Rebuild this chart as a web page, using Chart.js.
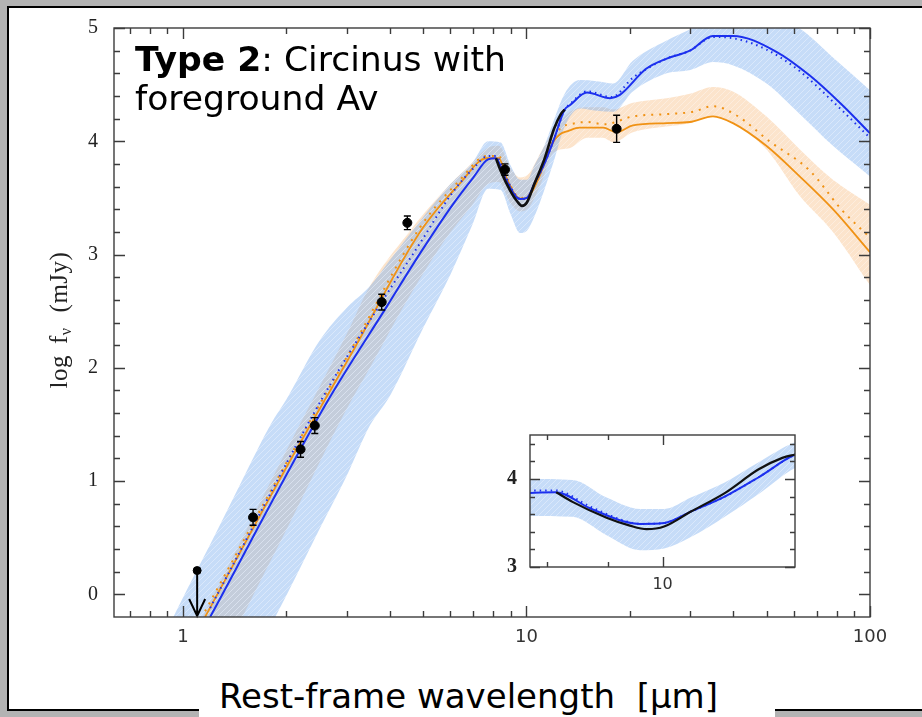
<!DOCTYPE html>
<html>
<head>
<meta charset="utf-8">
<script src="https://cdn.jsdelivr.net/npm/chart.js@4.4.1/dist/chart.umd.min.js"></script>
<style>
  html, body { margin: 0; padding: 0; }
  body { width: 922px; height: 717px; background: #b3b3b3; position: relative; overflow: hidden; font-family: "DejaVu Sans", sans-serif; }
  #panel { position: absolute; left: 7px; top: 6px; width: 940px; height: 705px; box-sizing: border-box; border: 2px solid #000; background: #fff; }
  #main { position: absolute; left: 0; top: 0; }
  #inset { position: absolute; left: 470px; top: 410px; }
  #title { position: absolute; left: 135px; top: 40px; font-size: 34.6px; line-height: 39px; color: #000; white-space: nowrap; }
  #xtitle { position: absolute; left: 199px; top: 676px; width: 576px; height: 41px; box-sizing: border-box; padding-left: 20px; background: #fff; font-size: 34px; line-height: 40px; white-space: pre; color: #000; }
  #ytitle { position: absolute; left: -61px; top: 306px; width: 240px; height: 28px; line-height: 28px; text-align: center; transform: rotate(-90deg); font-family: "Liberation Serif", serif; font-size: 25px; letter-spacing: 0.5px; color: #222; white-space: pre; }
  #ytitle sub { font-size: 16px; vertical-align: -4px; }
  #ytitle .gap1 { margin-left: 11px; }
  #ytitle .gap2 { margin-left: 15px; }
</style>
</head>
<body>
<div id="panel"></div>
<canvas id="main" width="922" height="717"></canvas>
<canvas id="inset" width="340" height="200"></canvas>
<div id="title"><b>Type 2</b>: Circinus with<br>foreground Av</div>
<div id="ytitle">log<span class="gap1">f</span><sub>ν</sub><span class="gap2">(mJy)</span></div>
<div id="xtitle">Rest-frame wavelength  [μm]</div>
<script>
// model SED, blue (solid + dotted)
const blueX = [1.2, 2.63, 3.92, 4.9, 6.13, 7.0, 7.73, 8.14, 8.69, 9.27, 9.58, 10.03, 10.56, 11.27, 12.03, 12.92, 13.4, 15.0, 17.5, 18.7, 22.3, 25.6, 29.9, 34.9, 39.9, 53.4, 66.8, 83, 100];
const blueY = [-0.2, 1.70, 2.54, 3.01, 3.45, 3.68, 3.84, 3.85, 3.67, 3.52, 3.49, 3.50, 3.63, 3.80, 4.02, 4.28, 4.32, 4.43, 4.38, 4.41, 4.64, 4.73, 4.80, 4.93, 4.93, 4.79, 4.58, 4.32, 4.07];
const blueDotX = [1.2, 2.6, 3.9, 4.9, 6.1, 7.0, 7.73, 8.14, 8.69, 9.27, 9.58, 10.03, 10.56, 11.27, 12.03, 12.92, 13.4, 15.0, 17.7, 20.4, 25.6, 29.9, 34.9, 39.9, 49.9, 62.4, 78, 100];
const blueDotY = [-0.12, 1.78, 2.64, 3.10, 3.55, 3.76, 3.87, 3.87, 3.69, 3.53, 3.49, 3.50, 3.63, 3.80, 4.02, 4.28, 4.33, 4.44, 4.39, 4.56, 4.73, 4.80, 4.92, 4.91, 4.81, 4.62, 4.35, 4.03];
const blueBandX = [0.9, 1.0, 1.2, 1.5, 1.8, 2.0, 2.5, 3.0, 3.5, 4.0, 5.0, 6.0, 7.0, 7.73, 8.41, 8.98, 9.58, 10.03, 10.56, 11.27, 12.03, 12.92, 14.3, 16.0, 17.9, 20.4, 25.6, 30, 35, 40, 50, 62, 78, 100];
const blueBandHi = [-0.31, -0.03, 0.44, 1.03, 1.5, 1.72, 2.24, 2.53, 2.72, 2.95, 3.33, 3.62, 3.82, 4.0, 3.99, 3.79, 3.66, 3.66, 3.79, 3.96, 4.19, 4.42, 4.54, 4.53, 4.51, 4.71, 4.89, 4.99, 5.08, 5.12, 5.1, 5.0, 4.74, 4.45];
const blueBandLo = [-2.1, -1.82, -1.34, -0.76, -0.28, -0.01, 0.58, 1.05, 1.49, 1.75, 2.35, 2.82, 3.28, 3.58, 3.57, 3.36, 3.19, 3.21, 3.34, 3.57, 3.83, 4.13, 4.29, 4.27, 4.26, 4.44, 4.6, 4.63, 4.70, 4.67, 4.51, 4.25, 3.96, 3.69];

// model SED, orange (solid + dotted)
const orangeX = [1.16, 2.0, 3.14, 4.9, 6.41, 7.66, 8.3, 8.8, 9.3, 9.7, 10.2, 10.8, 11.4, 12.0, 12.5, 13.2, 14.3, 16.7, 18.3, 20.4, 25.6, 29.9, 34.9, 39.9, 49.9, 62.4, 78, 100];
const orangeY = [-0.2, 1.12, 2.16, 3.2, 3.63, 3.85, 3.85, 3.66, 3.52, 3.49, 3.52, 3.66, 3.84, 4.0, 4.06, 4.09, 4.12, 4.12, 4.08, 4.14, 4.16, 4.17, 4.22, 4.16, 3.96, 3.69, 3.40, 3.02];
const orangeDotX = [1.16, 2.0, 3.14, 4.9, 6.41, 7.66, 8.3, 8.8, 9.3, 9.7, 10.2, 10.8, 11.4, 12.0, 12.6, 13.4, 15.0, 16.9, 20.4, 25.6, 30.5, 34.9, 40.8, 51, 66.8, 83, 100];
const orangeDotY = [-0.15, 1.16, 2.2, 3.24, 3.66, 3.87, 3.87, 3.67, 3.53, 3.5, 3.53, 3.67, 3.85, 4.02, 4.12, 4.15, 4.17, 4.15, 4.22, 4.24, 4.26, 4.31, 4.23, 4.0, 3.74, 3.39, 3.15];
const orangeBandX = [1.0, 1.14, 1.49, 2.0, 3.0, 3.5, 4.5, 5.7, 7.0, 7.7, 8.3, 9.0, 9.6, 10.2, 11.0, 12.0, 13.4, 15.0, 16.7, 17.9, 20.4, 25.6, 29.9, 34.9, 39.9, 49.9, 62.4, 78, 100];
const orangeBandHi = [-0.54, -0.2, 0.5, 1.27, 2.3, 2.72, 3.18, 3.55, 3.82, 3.94, 3.96, 3.76, 3.68, 3.72, 3.9, 4.1, 4.26, 4.3, 4.3, 4.28, 4.34, 4.38, 4.42, 4.48, 4.44, 4.22, 3.93, 3.66, 3.44];
const orangeBandLo = [-1.5, -0.95, -0.2, 0.57, 1.64, 2.0, 2.6, 3.1, 3.45, 3.62, 3.64, 3.45, 3.38, 3.42, 3.62, 3.9, 3.94, 4.03, 4.03, 3.99, 4.08, 4.13, 4.16, 4.22, 4.16, 3.93, 3.52, 3.2, 2.73];

// silicate spectrum
const specX = [8.15, 8.41, 8.98, 9.39, 9.70, 10.03, 10.56, 11.27, 12.03, 12.59, 12.92];
const specY = [3.85, 3.74, 3.56, 3.47, 3.43, 3.46, 3.63, 3.84, 4.11, 4.24, 4.28];

// photometry
const photX = [1.6, 2.2, 2.42, 3.79, 4.5, 8.66, 18.3];
const photY = [0.68, 1.28, 1.49, 2.58, 3.28, 3.75, 4.11];
const photErr = [0.07, 0.07, 0.07, 0.07, 0.06, 0.05, 0.12];
const limitX = [1.1];
const limitY = [0.21];

// ticks
const xLabels = [1, 10, 100];
const xMinor = [0.7, 0.8, 0.9, 2, 3, 4, 5, 6, 7, 8, 9, 20, 30, 40, 50, 60, 70, 80, 90];
const yLabels = [0, 1, 2, 3, 4, 5];
const yMinor = [0.2, 0.4, 0.6, 0.8, 1.2, 1.4, 1.6, 1.8, 2.2, 2.4, 2.6, 2.8, 3.2, 3.4, 3.6, 3.8, 4.2, 4.4, 4.6, 4.8];
const insetXLabels = [10];
const insetXMinor = [8, 9];
const insetYLabels = [3, 4];
const insetYMinor = [3.2, 3.4, 3.6, 3.8, 4.2, 4.4];

const BLUE = 'rgb(28,48,238)';
const ORANGE = 'rgb(240,146,20)';

function pts(xs, ys) {
    return xs.map((x, i) => ({x: x, y: ys[i]}))
}

function hatch(base, stripe) {
    const c = document.createElement('canvas');
    c.width = 6; c.height = 6;
    const g = c.getContext('2d');
    g.fillStyle = base;
    g.fillRect(0, 0, 6, 6);
    g.strokeStyle = stripe;
    g.lineWidth = 1;
    g.beginPath();
    g.moveTo(0, 6); g.lineTo(6, 0);
    g.moveTo(-1, 1); g.lineTo(1, -1);
    g.moveTo(5, 7); g.lineTo(7, 5);
    g.stroke();
    return g.createPattern(c, 'repeat');
}

const bluePat = hatch('rgba(120,172,238,0.42)', 'rgba(255,255,255,0.35)');
const orangePat = hatch('rgba(246,172,95,0.32)', 'rgba(255,255,255,0.35)');

function line(data, color, width, dash, order) {
    return {
        data: data, borderColor: color, borderWidth: width, borderDash: dash || [],
        pointRadius: 0, fill: false, cubicInterpolationMode: 'monotone', order: order
    }
}

function band(hi, lo, pat, order) {
    return [
        {data: hi, borderWidth: 0, borderColor: 'rgba(0,0,0,0)', pointRadius: 0, fill: '+1',
            backgroundColor: pat, cubicInterpolationMode: 'monotone', order: order},
        {data: lo, borderWidth: 0, borderColor: 'rgba(0,0,0,0)', pointRadius: 0, fill: false,
            cubicInterpolationMode: 'monotone', order: order + 1}
    ]
}

// box with inward ticks on all four sides
function framePlugin(xMaj, xMin, yMaj, yMin, majLen, minLen) {
    return {
        id: 'frame',
        beforeDraw(chart) {
            if (!chart.options.whiteArea) return;
            const a = chart.chartArea;
            chart.ctx.save();
            chart.ctx.fillStyle = '#fff';
            chart.ctx.fillRect(a.left, a.top, a.right - a.left, a.bottom - a.top);
            chart.ctx.restore();
        },
        afterDraw(chart) {
            const ctx = chart.ctx, a = chart.chartArea;
            const x = chart.scales.x, y = chart.scales.y;
            ctx.save();
            ctx.strokeStyle = '#3c3c3c';
            ctx.lineWidth = 1.4;
            ctx.strokeRect(a.left, a.top, a.right - a.left, a.bottom - a.top);
            ctx.beginPath();
            const xt = (v, len) => {
                const p = Math.round(x.getPixelForValue(v)) + 0.5;
                ctx.moveTo(p, a.bottom); ctx.lineTo(p, a.bottom - len);
                ctx.moveTo(p, a.top); ctx.lineTo(p, a.top + len);
            };
            const yt = (v, len) => {
                const p = Math.round(y.getPixelForValue(v)) + 0.5;
                ctx.moveTo(a.left, p); ctx.lineTo(a.left + len, p);
                ctx.moveTo(a.right, p); ctx.lineTo(a.right - len, p);
            };
            xMaj.forEach(v => xt(v, majLen));
            xMin.forEach(v => xt(v, minLen));
            yMaj.forEach(v => yt(v, majLen));
            yMin.forEach(v => yt(v, minLen));
            ctx.stroke();
            ctx.restore();
        }
    }
}

const errorBars = {
    id: 'errorBars',
    afterDatasetsDraw(chart) {
        const ctx = chart.ctx, x = chart.scales.x, y = chart.scales.y;
        ctx.save();
        ctx.strokeStyle = '#000';
        ctx.lineWidth = 1.4;
        ctx.beginPath();
        photX.forEach((v, i) => {
            const px = x.getPixelForValue(v);
            const t = y.getPixelForValue(photY[i] + photErr[i]);
            const b = y.getPixelForValue(photY[i] - photErr[i]);
            ctx.moveTo(px, t); ctx.lineTo(px, b);
            ctx.moveTo(px - 3.5, t); ctx.lineTo(px + 3.5, t);
            ctx.moveTo(px - 3.5, b); ctx.lineTo(px + 3.5, b);
        });
        ctx.stroke();
        ctx.lineWidth = 2;
        ctx.beginPath();
        limitX.forEach((v, i) => {
            const px = x.getPixelForValue(v);
            const py = y.getPixelForValue(limitY[i]);
            const end = chart.chartArea.bottom - 1;
            ctx.moveTo(px, py); ctx.lineTo(px, end);
            ctx.moveTo(px - 8, end - 17); ctx.lineTo(px, end); ctx.lineTo(px + 8, end - 17);
        });
        ctx.stroke();
        ctx.restore();
    }
};

const tickFontX = {family: 'DejaVu Sans', size: 18};
const tickFontY = {family: 'Liberation Serif', size: 20};

new Chart(document.getElementById('main'), {
    type: 'line',
    data: {
        datasets: [
            ...band(pts(orangeBandX, orangeBandHi), pts(orangeBandX, orangeBandLo), orangePat, 20),
            ...band(pts(blueBandX, blueBandHi), pts(blueBandX, blueBandLo), bluePat, 18),
            line(pts(orangeDotX, orangeDotY), ORANGE, 2, [2, 6], 6),
            line(pts(orangeX, orangeY), ORANGE, 1.8, [], 5),
            line(pts(blueDotX, blueDotY), BLUE, 2, [1.5, 4], 4),
            line(pts(blueX, blueY), BLUE, 2, [], 3),
            line(pts(specX, specY), '#111', 2.6, [], 2),
            {data: pts(photX, photY), showLine: false, pointRadius: 4.5, pointBackgroundColor: '#000',
                pointBorderColor: '#000', order: 0},
            {data: pts(limitX, limitY), showLine: false, pointRadius: 4, pointBackgroundColor: '#000',
                pointBorderColor: '#000', order: 0}
        ]
    },
    options: {
        responsive: false,
        animation: false,
        devicePixelRatio: 1,
        layout: {padding: {left: 0, top: 22, right: 52, bottom: 0}},
        plugins: {legend: {display: false}, tooltip: {enabled: false}},
        scales: {
            x: {
                type: 'logarithmic', min: 0.63, max: 100, bounds: 'data',
                afterFit: s => { s.height = 100 },
                afterBuildTicks: s => { s.ticks = xLabels.map(v => ({value: v})); s.min = 0.63; s.max = 100 },
                grid: {display: false, drawTicks: false},
                border: {display: false},
                ticks: {autoSkip: false, maxRotation: 0, padding: 10, font: tickFontX, color: '#333',
                    callback: v => String(v)}
            },
            y: {
                type: 'linear', min: -0.2, max: 5, bounds: 'data',
                afterFit: s => { s.width = 114 },
                afterBuildTicks: s => { s.ticks = yLabels.map(v => ({value: v})); s.min = -0.2; s.max = 5 },
                grid: {display: false, drawTicks: false},
                border: {display: false},
                ticks: {padding: 16, font: tickFontY, color: '#222'}
            }
        }
    },
    plugins: [framePlugin(xLabels, xMinor, yLabels, yMinor, 11, 6), errorBars]
});

new Chart(document.getElementById('inset'), {
    type: 'line',
    data: {
        datasets: [
            ...band(pts(blueBandX, blueBandHi), pts(blueBandX, blueBandLo), bluePat, 18),
            line(pts(blueDotX, blueDotY), BLUE, 2, [1.5, 4], 4),
            line(pts(blueX, blueY), BLUE, 2, [], 3),
            line(pts(specX, specY), '#111', 2.2, [], 2)
        ]
    },
    options: {
        responsive: false,
        animation: false,
        devicePixelRatio: 1,
        whiteArea: true,
        layout: {padding: {left: 0, top: 18, right: 15, bottom: 0}},
        plugins: {legend: {display: false}, tooltip: {enabled: false}},
        scales: {
            x: {
                type: 'logarithmic', min: 7.75, max: 12.9, bounds: 'data',
                afterFit: s => { s.height = 43 },
                afterBuildTicks: s => { s.ticks = insetXLabels.map(v => ({value: v})); s.min = 7.75; s.max = 12.9 },
                grid: {display: false, drawTicks: false},
                border: {display: false},
                ticks: {autoSkip: false, maxRotation: 0, padding: 8, font: {family: 'DejaVu Sans', size: 16},
                    color: '#333', callback: v => String(v)}
            },
            y: {
                type: 'linear', min: 3, max: 4.5, bounds: 'data',
                afterFit: s => { s.width = 60 },
                afterBuildTicks: s => { s.ticks = insetYLabels.map(v => ({value: v})); s.min = 3; s.max = 4.5 },
                grid: {display: false, drawTicks: false},
                border: {display: false},
                ticks: {padding: 13, font: {family: 'Liberation Serif', size: 20, weight: 'bold'}, color: '#222'}
            }
        }
    },
    plugins: [framePlugin(insetXLabels, insetXMinor, insetYLabels, insetYMinor, 10, 5)]
});
</script>
</body>
</html>
